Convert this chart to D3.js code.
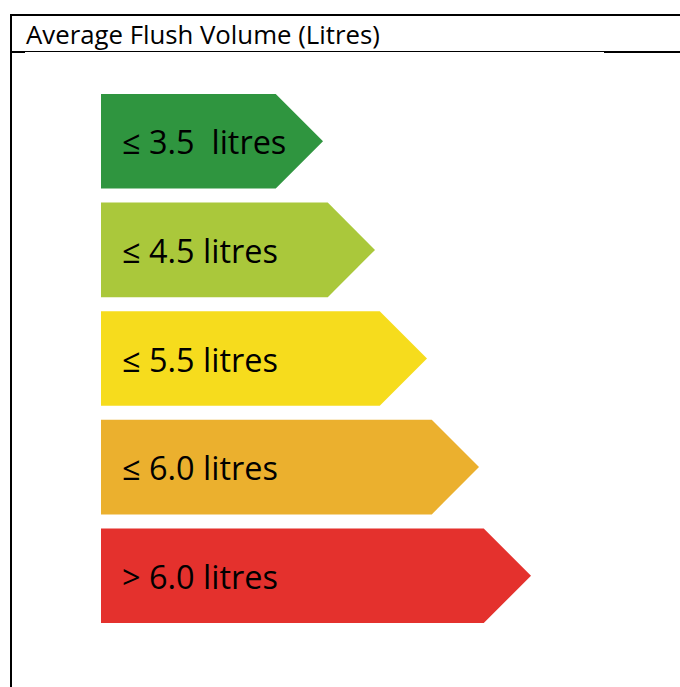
<!DOCTYPE html>
<html lang="en">
<head>
  <meta charset="UTF-8">
  <title>Average Flush Volume (Litres)</title>
  <style>
    body {
      margin: 0;
      background: #fff;
    }
    svg {
      display: block;
    }
    .label {
      font-family: 'Open Sans', Lato, sans-serif;
      fill: #000;
      white-space: pre;
    }
  </style>
</head>
<body>

<svg></svg>

<script src="https://d3js.org/d3.v7.min.js"></script>
<script>
// rating bands, best to worst
const levels = ["A", "B", "C", "D", "E"];
const labels = ["\u2264 3.5  litres", "\u2264 4.5 litres", "\u2264 5.5 litres", "\u2264 6.0 litres", "> 6.0 litres"];
const colors = ["#2f953f", "#aac83b", "#f6dc1d", "#ebb02e", "#e4312d"];
const title = "Average Flush Volume (Litres)";

const width = 680;
const height = 687;

const svg = d3.select("svg")
  .attr("width", width)
  .attr("height", height);

// shrink/grow a font so the text spans a given width
function fitFont(sel, size, target) {
  sel.attr("font-size", size);
  const w = sel.node().getComputedTextLength();
  sel.attr("font-size", size * target / w);
  return size * target / w;
}

// table frame
const frame = svg.append("g").attr("stroke", "#000");
frame.append("line").attr("x1", 10).attr("x2", width).attr("y1", 15).attr("y2", 15).attr("stroke-width", 2);
frame.append("line").attr("x1", 11).attr("x2", 11).attr("y1", 14).attr("y2", height).attr("stroke-width", 2);
frame.append("line").attr("x1", 11).attr("x2", 604).attr("y1", 51.5).attr("y2", 51.5).attr("stroke-width", 1);
frame.append("line").attr("x1", 604).attr("x2", width).attr("y1", 52).attr("y2", 52).attr("stroke-width", 2);
frame.append("line").attr("x1", 10).attr("x2", 25).attr("y1", 52).attr("y2", 52).attr("stroke-width", 2);

const head = svg.append("text")
  .attr("class", "label")
  .attr("x", 26)
  .attr("y", 44)
  .text(title);
fitFont(head, 24, 354);

// layout scales
const y = d3.scaleBand()
  .domain(levels)
  .range([94, 623])
  .paddingInner(0.13);

const tip = d3.scaleLinear()
  .domain([0, levels.length - 1])
  .range([323, 531]);

const left = 101;
const bh = y.bandwidth();

function arrowPath(d, i) {
  const t = y(d);
  const x2 = tip(i);
  const depth = bh / 2;
  const p = d3.path();
  p.moveTo(left, t);
  p.lineTo(x2 - depth, t);
  p.lineTo(x2, t + bh / 2);
  p.lineTo(x2 - depth, t + bh);
  p.lineTo(left, t + bh);
  p.closePath();
  return p.toString();
}

const arrows = svg.append("g")
  .selectAll("g")
  .data(levels)
  .join("g");

arrows.append("path")
  .attr("d", (d, i) => arrowPath(d, i))
  .attr("fill", (d, i) => colors[i]);

const texts = arrows.append("text")
  .attr("class", "label")
  .attr("x", 122)
  .attr("y", d => y(d) + bh / 2 + 13)
  .text((d, i) => labels[i]);

// size all labels from the "4.5 litres" one
const fs = fitFont(d3.select(texts.nodes()[1]), 29, 156);
texts.attr("font-size", fs);
</script>

</body>
</html>
